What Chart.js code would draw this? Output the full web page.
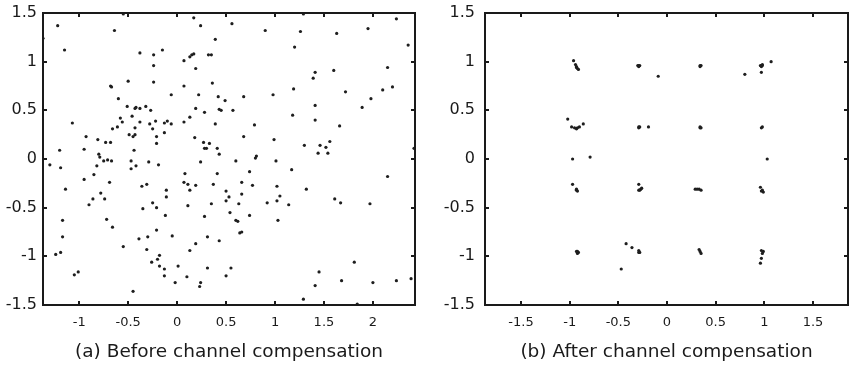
<!DOCTYPE html>
<html>
<head>
<meta charset="utf-8">
<script src="https://cdn.jsdelivr.net/npm/chart.js@4"></script>
<style>
  html, body { margin: 0; padding: 0; background: #fff; }
  #wrap { position: relative; width: 852px; height: 366px; overflow: hidden; }
  #chartA { position: absolute; left: 0; top: 0; }
  #chartB { position: absolute; left: 430px; top: 0; }
  .frame { position: absolute; box-sizing: border-box; border: 2px solid #1a1a1a; pointer-events: none; }
  .tick { position: absolute; background: #1a1a1a; pointer-events: none; }
</style>
</head>
<body>
<div id="wrap">
  <canvas id="chartA" width="430" height="366"></canvas>
  <canvas id="chartB" width="422" height="366"></canvas>
</div>
<script>
// (a) received symbols before channel compensation
const beforeX = [
  -0.55, 1.29, -1.37, -1.22, -1.15, -0.64, -1.07, -1.20, -0.93, -0.95,
  -0.81, -0.80, -0.73, -0.68, -0.68, -0.67, -0.60, -0.50, -0.51, -0.58,
  -0.56, -0.66, -0.61, -0.46, -0.43, -0.42, -0.38, -0.32, -0.27, -0.38,
  -0.43, -0.49, -0.45, -0.43, -0.44, -0.38, -0.24, -0.24, -0.24, -0.15,
  -0.06, -0.28, -0.25, -0.22, -0.21, -0.21, -0.13, -0.13, -0.10, -0.06,
  0.07, 0.13, 0.15, 0.17, 0.17, 0.24, 0.19, 0.07, 0.22, 0.32,
  0.35, 0.39, 0.36, 0.42, 0.19, 0.28, 0.13, 0.07, 0.43, 0.39,
  0.18, 0.27, 0.28, 0.30, 0.33, 0.41, 0.43, 0.56, 0.90, 1.26,
  1.63, 1.95, 2.24, 2.36, 1.20, 1.41, 1.39, 1.60, 2.15, 1.19,
  0.98, 0.68, 0.49, 0.45, 0.57, 1.72, 1.98, 2.10, 2.20, 1.89,
  1.41, 1.18, 1.41, 1.66, 0.79, 0.68, 0.99, 1.30, 1.46, 1.56,
  1.52, 1.44, 1.54, 0.81, 0.80, 2.42,
  -1.30, -1.19, -1.14, -0.95, -0.85, -0.82, -0.79, -0.75, -0.71, -0.67,
  -0.69, -0.78, -0.86, -0.74, -0.90, -0.72, -0.66, -1.17, -1.17, -1.24,
  -1.19, -1.05, -1.01, -0.55, -0.45, -0.47, -0.47, -0.42, -0.29, -0.19,
  -0.36, -0.31, -0.35, -0.25, -0.21, -0.11, -0.11, -0.12, -0.21, -0.39,
  -0.30, -0.31, -0.05, -0.18, -0.20, -0.26, -0.18, -0.13, -0.13, 0.01,
  -0.02, 0.08, 0.07, 0.11, 0.13, 0.19, 0.11, 0.24, 0.37, 0.41,
  0.35, 0.28, 0.31, 0.43, 0.19, 0.13, 0.31, 0.10, 0.24, 0.23,
  0.60, 1.01, 1.17, 0.74, 0.66, 0.77, 0.50, 0.53, 0.50, 0.66,
  0.63, 0.54, 0.74, 0.60, 0.62, 0.64, 0.66, 1.02, 1.05, 1.02,
  0.92, 1.14, 1.03, 1.32, 1.61, 1.67, 1.97, 2.15, 0.55, 0.50,
  1.81, 1.45, 1.41, 1.68, 2.00, 2.24, 2.39, 1.29, 1.84
];
const beforeY = [
  1.49, 1.49, 1.24, 1.37, 1.12, 1.32, 0.37, 0.09, 0.23, 0.10,
  0.20, 0.05, 0.17, 0.17, 0.75, 0.74, 0.62, 0.80, 0.54, 0.42,
  0.38, 0.31, 0.33, 0.44, 0.52, 0.53, 0.52, 0.54, 0.50, 0.38,
  0.32, 0.25, 0.23, 0.25, 0.09, 1.09, 1.07, 0.96, 0.79, 1.12,
  0.66, 0.36, 0.31, 0.39, 0.23, 0.16, 0.27, 0.37, 0.39, 0.36,
  1.01, 1.05, 1.07, 1.08, 1.45, 1.37, 0.93, 0.75, 0.66, 1.07,
  1.07, 1.23, 0.78, 0.64, 0.52, 0.48, 0.43, 0.38, 0.51, 0.36,
  0.22, 0.17, 0.11, 0.11, 0.16, 0.11, 0.05, 1.39, 1.32, 1.31,
  1.29, 1.34, 1.44, 1.17, 1.15, 0.89, 0.83, 0.91, 0.94, 0.72,
  0.66, 0.64, 0.60, 0.50, 0.50, 0.69, 0.62, 0.71, 0.74, 0.53,
  0.55, 0.45, 0.40, 0.34, 0.35, 0.23, 0.20, 0.14, 0.14, 0.18,
  0.12, 0.06, 0.06, 0.03, 0.01, 0.11,
  -0.06, -0.09, -0.31, -0.21, -0.16, -0.07, 0.02, -0.02, -0.01, -0.02,
  -0.24, -0.35, -0.41, -0.41, -0.47, -0.62, -0.70, -0.63, -0.80, -0.98,
  -0.96, -1.19, -1.16, -0.90, -1.36, -0.02, -0.10, -0.07, -0.03, -0.06,
  -0.28, -0.26, -0.51, -0.45, -0.50, -0.32, -0.39, -0.58, -0.73, -0.82,
  -0.80, -0.93, -0.79, -0.99, -1.03, -1.06, -1.10, -1.13, -1.20, -1.10,
  -1.27, -0.15, -0.24, -0.26, -0.32, -0.27, -0.48, -0.03, -0.26, -0.15,
  -0.46, -0.59, -0.80, -0.84, -0.87, -0.94, -1.12, -1.21, -1.27, -1.31,
  -0.02, -0.02, -0.11, -0.13, -0.24, -0.27, -0.33, -0.39, -0.43, -0.36,
  -0.46, -0.55, -0.58, -0.63, -0.64, -0.76, -0.75, -0.28, -0.38, -0.43,
  -0.45, -0.47, -0.63, -0.31, -0.41, -0.45, -0.46, -0.18, -1.12, -1.20,
  -1.06, -1.16, -1.30, -1.25, -1.27, -1.25, -1.23, -1.44, -1.49
];

// (b) symbols after channel compensation (16-QAM clusters)
const afterX = [
  -0.96, -0.94, -0.93, -0.92, -0.91, -0.93, -0.30, -0.29, -0.28, -0.29,
  -0.09, 0.34, 0.35, 0.34, 0.80, 0.96, 0.97, 0.98, 0.97, 0.98,
  1.07, 0.97,
  -1.02, -0.98, -0.95, -0.93, -0.92, -0.90, -0.86, -0.29, -0.29, -0.28,
  -0.19, 0.34, 0.34, 0.35, 0.98, 0.97,
  -0.97, -0.79, 1.03,
  -0.97, -0.93, -0.92, -0.93, -0.29, -0.29, -0.27, -0.26, -0.28, 0.29,
  0.31, 0.33, 0.35, 0.96, 0.97, 0.99, 0.98,
  -0.93, -0.91, -0.92, -0.92, -0.42, -0.36, -0.29, -0.28, -0.29, -0.47,
  0.33, 0.34, 0.35, 0.97, 0.98, 0.97, 0.96, 0.99
];
const afterY = [
  1.01, 0.97, 0.95, 0.93, 0.92, 0.94, 0.96, 0.96, 0.96, 0.95,
  0.85, 0.96, 0.96, 0.95, 0.87, 0.96, 0.96, 0.96, 0.95, 0.97,
  1.00, 0.89,
  0.41, 0.33, 0.32, 0.31, 0.32, 0.33, 0.36, 0.33, 0.32, 0.33,
  0.33, 0.32, 0.33, 0.32, 0.33, 0.32,
  0.00, 0.02, 0.00,
  -0.26, -0.31, -0.33, -0.32, -0.26, -0.32, -0.31, -0.30, -0.32, -0.31,
  -0.31, -0.31, -0.32, -0.29, -0.33, -0.34, -0.32,
  -0.95, -0.96, -0.95, -0.97, -0.87, -0.91, -0.94, -0.96, -0.96, -1.13,
  -0.93, -0.95, -0.97, -0.94, -0.97, -1.02, -1.07, -0.95
];

const yTicks = [-1.5, -1, -0.5, 0, 0.5, 1, 1.5];
const xTicksA = [-1, -0.5, 0, 0.5, 1, 1.5, 2];
const xTicksB = [-1.5, -1, -0.5, 0, 0.5, 1, 1.5];

const captionA = '(a) Before channel compensation';
const captionB = '(b) After channel compensation';

function makePoints(xs, ys) {
  return xs.map((v, i) => ({ x: v, y: ys[i] }));
}

// no extra label padding around the plot box, so the box sits where layout.padding says
function noScalePadding(s) {
  s.paddingTop = 0;
  s.paddingBottom = 0;
  s.paddingLeft = 0;
  s.paddingRight = 0;
}

function makeChart(id, xs, ys, xMin, xMax, xTicks, caption, yWidth, yPad, rightPad) {
  return new Chart(document.getElementById(id), {
    type: 'scatter',
    data: {
      datasets: [{
        data: makePoints(xs, ys),
        backgroundColor: '#1e1e1e',
        borderWidth: 0,
        pointRadius: 1.6
      }]
    },
    options: {
      responsive: false,
      animation: false,
      layout: { padding: { left: 0, right: rightPad, top: 13, bottom: 0 } },
      plugins: {
        legend: { display: false },
        tooltip: { enabled: false }
      },
      scales: {
        x: {
          type: 'linear',
          min: xMin,
          max: xMax,
          grid: { display: false, drawTicks: false },
          border: { display: false },
          afterBuildTicks: s => { s.ticks = xTicks.map(v => ({ value: v })); },
          afterFit: s => { s.height = 61; noScalePadding(s); },
          ticks: {
            color: '#1a1a1a',
            padding: 10,
            font: { family: 'DejaVu Sans', size: 13 },
            callback: v => String(v)
          },
          title: {
            display: true,
            text: caption,
            color: '#1a1a1a',
            padding: { top: 2, bottom: 3 },
            font: { family: 'DejaVu Sans', size: 18.5 }
          }
        },
        y: {
          type: 'linear',
          min: -1.5,
          max: 1.5,
          grid: { display: false, drawTicks: false },
          border: { display: false },
          afterBuildTicks: s => { s.ticks = yTicks.map(v => ({ value: v })); },
          afterFit: s => { s.width = yWidth; noScalePadding(s); },
          ticks: {
            color: '#1a1a1a',
            padding: yPad,
            font: { family: 'DejaVu Sans', size: 16 },
            callback: v => String(v)
          }
        }
      }
    }
  });
}

// matlab style box with inward ticks, placed from the chart's own area and scales
function addBox(chart, canvasLeft) {
  const wrap = document.getElementById('wrap');
  const a = chart.chartArea;
  const x = chart.scales.x;
  const y = chart.scales.y;
  const put = (cls, l, t, w, h) => {
    const d = document.createElement('div');
    d.className = cls;
    d.style.left = l + 'px';
    d.style.top = t + 'px';
    d.style.width = w + 'px';
    d.style.height = h + 'px';
    wrap.appendChild(d);
  };
  put('frame', canvasLeft + a.left - 1, a.top - 1, a.right - a.left + 2, a.bottom - a.top + 2);
  x.ticks.forEach(t => {
    const px = canvasLeft + x.getPixelForValue(t.value);
    put('tick', px - 1, a.top, 2, 4);
    put('tick', px - 1, a.bottom - 4, 2, 4);
  });
  y.ticks.forEach(t => {
    const py = y.getPixelForValue(t.value);
    put('tick', canvasLeft + a.left, py - 1, 4, 2);
    put('tick', canvasLeft + a.right - 4, py - 1, 4, 2);
  });
}

const chartA = makeChart('chartA', beforeX, beforeY, -1.37, 2.43, xTicksA, captionA, 43, 6, 15);
const chartB = makeChart('chartB', afterX, afterY, -1.87, 1.86, xTicksB, captionB, 55, 10, 2);
addBox(chartA, 0);
addBox(chartB, 430);
</script>
</body>
</html>
